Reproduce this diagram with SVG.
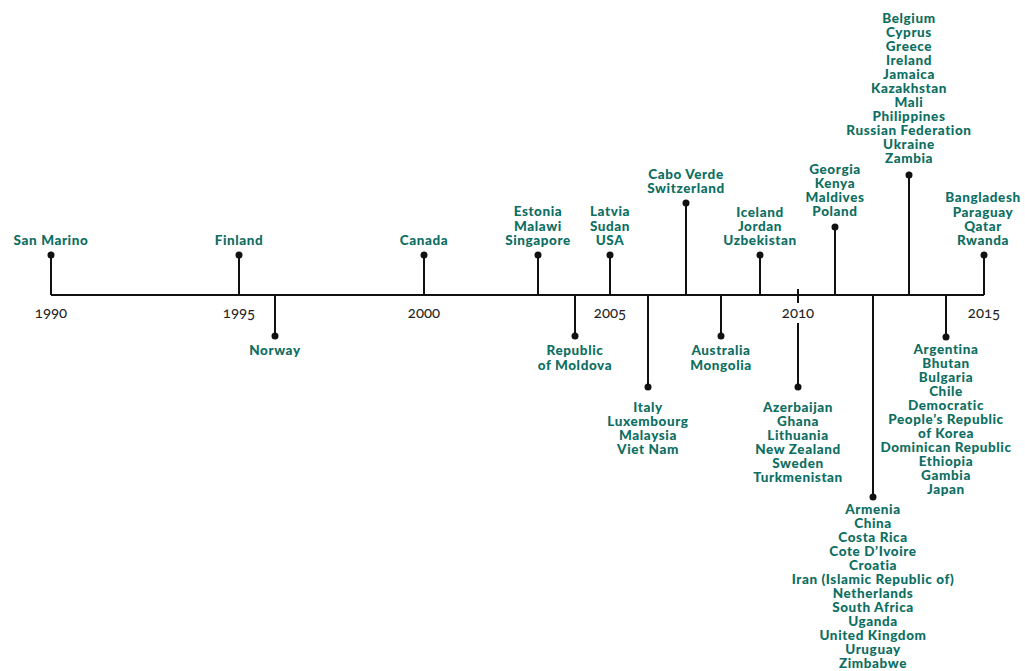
<svg xmlns="http://www.w3.org/2000/svg" width="1025" height="671" viewBox="0 0 1025 671">
<defs>
<style>
.lbl{font-family:Lato,"Liberation Sans",sans-serif;font-weight:900;font-size:13.5px;letter-spacing:0.6px;fill:#0d6e62;text-anchor:middle}
.yr{font-family:Lato,"Liberation Sans",sans-serif;font-size:15px;fill:#222;text-anchor:middle;font-variant-numeric:oldstyle-nums;font-feature-settings:"onum" 1}
.ln{stroke:#111;stroke-width:2;fill:none}
.dot{fill:#111}
</style>
</defs>
<rect width="1025" height="671" fill="#fff"/>
<g id="connectors">
<line class="ln" x1="51" y1="295" x2="984" y2="295"/>
<line class="ln" x1="51" y1="295" x2="51" y2="255"/>
<line class="ln" x1="239" y1="295" x2="239" y2="255"/>
<line class="ln" x1="275" y1="295" x2="275" y2="336"/>
<line class="ln" x1="424" y1="295" x2="424" y2="255"/>
<line class="ln" x1="538" y1="295" x2="538" y2="255"/>
<line class="ln" x1="575" y1="295" x2="575" y2="336"/>
<line class="ln" x1="610" y1="295" x2="610" y2="255"/>
<line class="ln" x1="648" y1="295" x2="648" y2="387"/>
<line class="ln" x1="686" y1="295" x2="686" y2="203"/>
<line class="ln" x1="721" y1="295" x2="721" y2="336"/>
<line class="ln" x1="760" y1="295" x2="760" y2="255"/>
<line class="ln" x1="798" y1="289" x2="798" y2="387"/>
<line class="ln" x1="835" y1="295" x2="835" y2="227"/>
<line class="ln" x1="873" y1="295" x2="873" y2="497"/>
<line class="ln" x1="909" y1="295" x2="909" y2="175"/>
<line class="ln" x1="946" y1="295" x2="946" y2="337"/>
<line class="ln" x1="984" y1="295" x2="984" y2="255"/>
<circle class="dot" cx="51" cy="255" r="3.5"/>
<circle class="dot" cx="239" cy="255" r="3.5"/>
<circle class="dot" cx="275" cy="336" r="3.5"/>
<circle class="dot" cx="424" cy="255" r="3.5"/>
<circle class="dot" cx="538" cy="255" r="3.5"/>
<circle class="dot" cx="575" cy="336" r="3.5"/>
<circle class="dot" cx="610" cy="255" r="3.5"/>
<circle class="dot" cx="648" cy="387" r="3.5"/>
<circle class="dot" cx="686" cy="203" r="3.5"/>
<circle class="dot" cx="721" cy="336" r="3.5"/>
<circle class="dot" cx="760" cy="255" r="3.5"/>
<circle class="dot" cx="798" cy="387" r="3.5"/>
<circle class="dot" cx="835" cy="227" r="3.5"/>
<circle class="dot" cx="873" cy="497" r="3.5"/>
<circle class="dot" cx="909" cy="175" r="3.5"/>
<circle class="dot" cx="946" cy="337" r="3.5"/>
<circle class="dot" cx="984" cy="255" r="3.5"/>
</g>
<g id="years">
<text class="yr" x="51" y="318">1990</text>
<text class="yr" x="239" y="318">1995</text>
<text class="yr" x="424" y="318">2000</text>
<text class="yr" x="610" y="318">2005</text>
<rect x="779" y="303" width="38" height="20" fill="#fff"/>
<text class="yr" x="798" y="318">2010</text>
<text class="yr" x="984" y="318">2015</text>
</g>
<g id="n1990"><text class="lbl" x="51" y="245">San Marino</text></g>
<g id="n1995"><text class="lbl" x="239" y="245">Finland</text></g>
<g id="n1996"><text class="lbl" x="275" y="355">Norway</text></g>
<g id="n2000"><text class="lbl" x="424" y="245">Canada</text></g>
<g id="n2004a"><text class="lbl" x="538" y="216">Estonia</text><text class="lbl" x="538" y="230.5">Malawi</text><text class="lbl" x="538" y="245">Singapore</text></g>
<g id="n2004b"><text class="lbl" x="575" y="355">Republic</text><text class="lbl" x="575" y="369.5">of Moldova</text></g>
<g id="n2005"><text class="lbl" x="610" y="216">Latvia</text><text class="lbl" x="610" y="230.5">Sudan</text><text class="lbl" x="610" y="245">USA</text></g>
<g id="n2006"><text class="lbl" x="648" y="411.5">Italy</text><text class="lbl" x="648" y="426">Luxembourg</text><text class="lbl" x="648" y="440">Malaysia</text><text class="lbl" x="648" y="454">Viet Nam</text></g>
<g id="n2007"><text class="lbl" x="686" y="178.5">Cabo Verde</text><text class="lbl" x="686" y="192.5">Switzerland</text></g>
<g id="n2008"><text class="lbl" x="721" y="355">Australia</text><text class="lbl" x="721" y="369.5">Mongolia</text></g>
<g id="n2009"><text class="lbl" x="760" y="216.5">Iceland</text><text class="lbl" x="760" y="230.5">Jordan</text><text class="lbl" x="760" y="245">Uzbekistan</text></g>
<g id="n2010"><text class="lbl" x="798" y="411.5">Azerbaijan</text><text class="lbl" x="798" y="425.5">Ghana</text><text class="lbl" x="798" y="439.5">Lithuania</text><text class="lbl" x="798" y="453.5">New Zealand</text><text class="lbl" x="798" y="467.5">Sweden</text><text class="lbl" x="798" y="481.5">Turkmenistan</text></g>
<g id="n2011"><text class="lbl" x="835" y="174">Georgia</text><text class="lbl" x="835" y="188">Kenya</text><text class="lbl" x="835" y="202">Maldives</text><text class="lbl" x="835" y="216">Poland</text></g>
<g id="n2012"><text class="lbl" x="873" y="514">Armenia</text><text class="lbl" x="873" y="528">China</text><text class="lbl" x="873" y="542">Costa Rica</text><text class="lbl" x="873" y="556">Cote D’Ivoire</text><text class="lbl" x="873" y="570">Croatia</text><text class="lbl" x="873" y="584">Iran (Islamic Republic of)</text><text class="lbl" x="873" y="598">Netherlands</text><text class="lbl" x="873" y="612">South Africa</text><text class="lbl" x="873" y="626">Uganda</text><text class="lbl" x="873" y="640">United Kingdom</text><text class="lbl" x="873" y="654">Uruguay</text><text class="lbl" x="873" y="668">Zimbabwe</text></g>
<g id="n2013"><text class="lbl" x="909" y="23">Belgium</text><text class="lbl" x="909" y="37">Cyprus</text><text class="lbl" x="909" y="51">Greece</text><text class="lbl" x="909" y="65">Ireland</text><text class="lbl" x="909" y="79">Jamaica</text><text class="lbl" x="909" y="93">Kazakhstan</text><text class="lbl" x="909" y="107">Mali</text><text class="lbl" x="909" y="121">Philippines</text><text class="lbl" x="909" y="135">Russian Federation</text><text class="lbl" x="909" y="149">Ukraine</text><text class="lbl" x="909" y="163">Zambia</text></g>
<g id="n2014"><text class="lbl" x="946" y="354">Argentina</text><text class="lbl" x="946" y="368">Bhutan</text><text class="lbl" x="946" y="382">Bulgaria</text><text class="lbl" x="946" y="396">Chile</text><text class="lbl" x="946" y="410">Democratic</text><text class="lbl" x="946" y="424">People’s Republic</text><text class="lbl" x="946" y="438">of Korea</text><text class="lbl" x="946" y="452">Dominican Republic</text><text class="lbl" x="946" y="466">Ethiopia</text><text class="lbl" x="946" y="480">Gambia</text><text class="lbl" x="946" y="494">Japan</text></g>
<g id="n2015"><text class="lbl" x="983" y="202">Bangladesh</text><text class="lbl" x="983" y="216.5">Paraguay</text><text class="lbl" x="983" y="230.5">Qatar</text><text class="lbl" x="983" y="245">Rwanda</text></g>
</svg>
